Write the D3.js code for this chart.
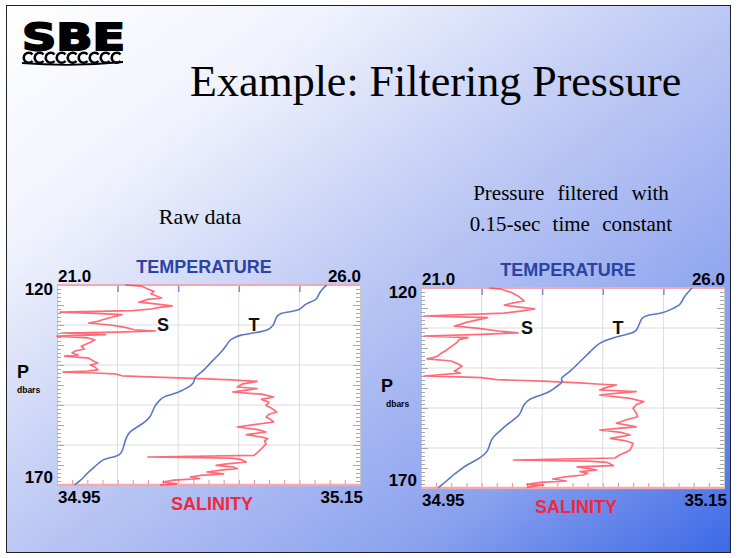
<!DOCTYPE html>
<meta charset="utf-8">
<style>
  body { margin: 0; background: #fff; }
  svg { display: block; }
  .serif { font-family: "Liberation Serif", "Times New Roman", serif; }
  .lab { font-family: "Liberation Sans", Arial, sans-serif; font-weight: bold; }
</style>
<svg width="738" height="558"></svg>
<script src="https://d3js.org/d3.v7.min.js"></script>
<script>

// ---- data: [pressure dbar, value] ----
var rawTemp = [[120,25.45],[121,25.38],[122,25.33],[123,25.30],[123.75,25.28],[124.6,25.12],[125.3,25.06],
  [126.25,25.01],[126.8,24.80],[127.1,24.68],[127.9,24.62],[129,24.60],[130,24.57],[131.25,24.51],[132,24.25],
  [132.5,24.02],[133.2,23.92],[133.75,23.85],[135,23.80],[136.25,23.74],[137.5,23.66],[138.75,23.58],[140,23.50],
  [141,23.44],[142.1,23.36],[142.9,23.28],[143.6,23.27],[144.6,23.25],[145.4,23.19],[146.2,23.08],[147.1,22.97],
  [147.9,22.75],[148.75,22.70],[150,22.62],[151.5,22.58],[153.3,22.53],[154.6,22.42],[155.7,22.30],[156.7,22.20],
  [157.9,22.15],[160,22.10],[162.75,22.07],[163.3,21.79],[164.2,21.71],[165.5,21.62],[167.1,21.49],[168.5,21.42],
  [169.6,21.32],[170,21.29]];

var rawSal = [[120,34.995],[120.3,35.006],[121,35.010],[121.6,35.014],[122.2,35.012],[122.8,35.016],[123.25,35.019],
  [123.6,35.010],[124.3,35.004],[124.6,35.012],[124.9,35.019],[125.2,35.026],[125.6,35.018],[126,35.012],[126.4,35.000],
  [126.8,34.952],[127.1,34.975],[127.4,34.993],[127.7,34.990],[128.2,34.985],[128.7,34.980],[129.1,34.977],[129.5,34.971],
  [130,34.985],[130.6,34.995],[131.2,35.001],[131.5,35.015],[131.8,34.990],[132,34.953],[132.4,34.982],[132.8,34.950],
  [133.2,34.970],[133.7,34.975],[134.3,34.972],[135.3,34.966],[136,34.968],[136.5,34.962],[137,34.960],[137.5,34.964],
  [137.8,34.955],[138.3,34.971],[139,34.974],[139.5,34.977],[140,34.972],[140.5,34.975],[141.2,34.977],[141.5,34.970],
  [141.8,34.954],[142,34.975],[142.2,34.988],[142.7,34.993],[143.1,35.020],[143.4,35.045],[143.7,35.065],[144.1,35.082],
  [144.8,35.072],[145.5,35.069],[145.9,35.082],[146.3,35.075],[146.75,35.066],[147.3,35.085],[148,35.093],[148.6,35.085],
  [149.3,35.090],[150.1,35.088],[150.9,35.092],[151.75,35.095],[152.3,35.090],[153,35.088],[153.6,35.091],[154.25,35.093],
  [154.9,35.080],[155.5,35.069],[156.1,35.082],[156.75,35.088],[157.4,35.075],[158,35.085],[158.4,35.089],[159,35.087],
  [159.7,35.088],[160.5,35.086],[161.3,35.084],[162,35.082],[162.6,35.080],[163,35.010],[163.3,35.065],[163.6,35.071],
  [164.25,35.075],[164.7,35.062],[165.1,35.055],[165.5,35.066],[165.9,35.069],[166.3,35.058],[166.75,35.049],[167.2,35.060],
  [167.6,35.045],[168,35.038],[168.4,35.044],[168.8,35.027],[169.25,35.020],[169.7,35.029],[170,35.018]];

var filtTemp = [[120,25.47],[121.5,25.38],[122.5,25.33],[123.5,25.30],[124.25,25.27],[125.2,25.15],[126.3,25.00],
  [126.75,24.72],[127.5,24.64],[129,24.60],[130.9,24.56],[131.6,24.40],[132.2,24.23],[133.2,24.02],[134.25,23.90],
  [135.8,23.80],[137.6,23.68],[139.2,23.57],[140.9,23.46],[142.6,23.29],[143.2,23.34],[143.8,23.32],[144.8,23.22],
  [145.9,23.13],[146.8,22.98],[147.6,22.80],[149,22.70],[150.5,22.66],[151.75,22.63],[153,22.52],[154.25,22.41],
  [155.8,22.30],[157.2,22.19],[158.5,22.14],[160.9,22.11],[162.6,21.97],[164.25,21.75],[165.5,21.64],[166.75,21.53],
  [168,21.44],[169.25,21.34],[170,21.28]];

var filtSal = [[120,34.995],[120.3,35.003],[121.2,35.010],[122,35.014],[122.6,35.016],[123.25,35.018],[123.8,35.010],
  [124.3,35.005],[124.8,35.015],[125.2,35.025],[125.7,35.017],[126.3,35.005],[127,34.952],[127.4,34.994],[127.9,34.988],
  [128.6,34.980],[129.1,34.976],[129.5,34.972],[130.1,34.988],[130.75,35.001],[131.2,35.014],[131.6,34.990],[132,34.952],
  [132.4,34.981],[132.9,34.975],[133.5,34.974],[134.1,34.972],[134.9,34.969],[135.75,34.966],[136.4,34.963],[137,34.961],
  [137.4,34.958],[137.7,34.954],[138.25,34.970],[138.9,34.974],[139.5,34.977],[140.1,34.975],[140.75,34.972],[141.3,34.976],
  [142,34.952],[142.2,34.975],[142.4,34.990],[142.9,35.000],[143.3,35.030],[143.7,35.055],[144,35.066],[144.25,35.079],
  [144.9,35.072],[145.5,35.068],[145.9,35.092],[146.3,35.080],[146.75,35.068],[147.6,35.088],[148.4,35.097],[149.2,35.092],
  [150.1,35.090],[151.2,35.092],[152.2,35.093],[153,35.085],[153.8,35.079],[154.7,35.092],[155.1,35.080],[155.5,35.068],
  [156.1,35.082],[156.75,35.088],[157.6,35.075],[158.2,35.085],[158.8,35.090],[159.7,35.089],[160.5,35.088],[161.1,35.085],
  [161.75,35.081],[162.5,35.078],[163,35.011],[163.3,35.060],[163.6,35.073],[164.4,35.077],[164.7,35.053],[165.1,35.060],
  [165.5,35.066],[165.9,35.055],[166.3,35.060],[166.75,35.057],[167.2,35.045],[167.75,35.037],[168.25,35.046],[168.6,35.029],
  [169.1,35.020],[169.25,35.031],[169.7,35.021],[170,35.020]];

var pRange = [120, 170];
var tRange = [21.0, 26.0];
var sRange = [34.95, 35.15];
var pLabels = ["120", "170"];
var tLabels = ["21.0", "26.0"];
var sLabels = ["34.95", "35.15"];

var svg = d3.select("svg");

// slide background
var defs = svg.append("defs");
var grad = defs.append("linearGradient").attr("id", "bg")
    .attr("x1", 0).attr("y1", 0).attr("x2", 1).attr("y2", 1);
grad.append("stop").attr("offset", "0").attr("stop-color", "#ffffff");
grad.append("stop").attr("offset", "0.22").attr("stop-color", "#f1f3fd");
grad.append("stop").attr("offset", "0.5").attr("stop-color", "#bcc8f4");
grad.append("stop").attr("offset", "0.78").attr("stop-color", "#8aa1ee");
grad.append("stop").attr("offset", "1").attr("stop-color", "#3b69e6");

svg.append("rect")
    .attr("x", 6.5).attr("y", 5.5).attr("width", 724).attr("height", 547)
    .attr("fill", "url(#bg)").attr("stroke", "#222").attr("stroke-width", 1);

// SBE logo
svg.append("text")
    .attr("x", 22).attr("y", 50)
    .attr("textLength", 103).attr("lengthAdjust", "spacingAndGlyphs")
    .attr("font-family", "'DejaVu Sans', sans-serif").attr("font-weight", "bold")
    .attr("font-size", 38).attr("fill", "#000").attr("stroke", "#000").attr("stroke-width", 2)
    .text("SBE");
var curls = svg.append("g").attr("fill", "none").attr("stroke", "#000").attr("stroke-width", 2.6);
d3.range(9).forEach(function(i) {
  var cx = 28 + i * 11, cy = 57.5;
  curls.append("path").attr("d",
    "M" + (cx + 4.5) + "," + (cy - 3) + " A5,5 0 1 0 " + (cx + 4.5) + "," + (cy + 3.5));
});
curls.append("path").attr("d", "M22,63 Q72,67 123,62").attr("stroke-width", 1.8);

// title & captions
svg.append("text").attr("class", "serif")
    .attr("x", 190).attr("y", 96).attr("font-size", 44).attr("fill", "#000")
    .text("Example: Filtering Pressure");
svg.append("text").attr("class", "serif")
    .attr("x", 200).attr("y", 224).attr("text-anchor", "middle").attr("font-size", 22)
    .text("Raw data");
svg.append("text").attr("class", "serif")
    .attr("x", 571).attr("y", 200).attr("text-anchor", "middle").attr("font-size", 21)
    .attr("word-spacing", 8).text("Pressure filtered with");
svg.append("text").attr("class", "serif")
    .attr("x", 571).attr("y", 231).attr("text-anchor", "middle").attr("font-size", 21)
    .attr("word-spacing", 7).text("0.15-sec time constant");

function drawPanel(x0, y0, temp, sal, pdy) {
  var w = 303, h = 200;
  var g = svg.append("g").attr("transform", "translate(" + x0 + "," + y0 + ")");

  var y = d3.scaleLinear().domain(pRange).range([0, h]);
  var xt = d3.scaleLinear().domain(tRange).range([0, w]);
  var xs = d3.scaleLinear().domain(sRange).range([0, w]);

  g.append("rect").attr("width", w).attr("height", h).attr("fill", "#fff");

  // grid
  g.append("g").selectAll("line").data(d3.range(22, 26)).join("line")
      .attr("x1", function(d) { return xt(d); }).attr("x2", function(d) { return xt(d); })
      .attr("y1", 0).attr("y2", h).attr("stroke", "#dcdcdc");
  g.append("g").selectAll("line").data(d3.range(130, 170, 10)).join("line")
      .attr("y1", function(d) { return y(d); }).attr("y2", function(d) { return y(d); })
      .attr("x1", 0).attr("x2", w).attr("stroke", "#dcdcdc");

  // pressure ticks both sides, pointing in
  [["left", 0, -1], ["right", w, 1]].forEach(function(s) {
    var ax = (s[0] == "left" ? d3.axisLeft(y) : d3.axisRight(y))
        .tickValues(d3.range(121, 170)).tickFormat("").tickSize(-4);
    var a = g.append("g").attr("transform", "translate(" + s[1] + ",0)").call(ax);
    a.select(".domain").attr("stroke", "#c8c8c8");
    a.selectAll(".tick line").attr("stroke", "#a8a8a8")
        .attr("x2", function(d) { return (d % 5 == 0 ? 7 : 4) * -s[2]; });
  });

  // salinity ticks along the bottom
  var bx = g.append("g").attr("transform", "translate(0," + h + ")")
      .call(d3.axisBottom(xs).tickValues(d3.range(34.96, 35.145, 0.01)).tickFormat("").tickSize(-5));
  bx.select(".domain").remove();
  bx.selectAll(".tick line").attr("stroke", "#f08a96");
  // temperature ticks along the top
  var tx = g.append("g")
      .call(d3.axisTop(xt).tickValues(d3.range(22, 26)).tickFormat("").tickSize(-7));
  tx.select(".domain").remove();
  tx.selectAll(".tick line").attr("stroke", "#7890d0").attr("stroke-width", 1.5);

  g.append("line").attr("x1", 0).attr("x2", w).attr("y1", 0).attr("y2", 0)
      .attr("stroke", "#f6a8b0").attr("stroke-width", 2);
  g.append("line").attr("x1", 0).attr("x2", w).attr("y1", h).attr("y2", h)
      .attr("stroke", "#f6a8b0").attr("stroke-width", 2.5);

  // profiles
  g.append("path").datum(sal)
      .attr("fill", "none").attr("stroke", "#ff3a4c").attr("stroke-opacity", 0.75)
      .attr("stroke-width", 1.7).attr("stroke-linejoin", "round")
      .attr("d", d3.line().x(function(d) { return xs(d[1]); }).y(function(d) { return y(d[0]); }));
  g.append("path").datum(temp)
      .attr("fill", "none").attr("stroke", "#5a78c6")
      .attr("stroke-width", 1.6).attr("stroke-linejoin", "round")
      .attr("d", d3.line().curve(d3.curveBasis).x(function(d) { return xt(d[1]); }).y(function(d) { return y(d[0]); }));

  // in-plot markers
  g.append("text").attr("class", "lab").attr("font-size", 18).attr("text-anchor", "middle")
      .attr("x", xs(35.020)).attr("y", y(131.5)).attr("fill", "#111").text("S");
  g.append("text").attr("class", "lab").attr("font-size", 18).attr("text-anchor", "middle")
      .attr("x", xt(24.25)).attr("y", y(131.5)).attr("fill", "#111").text("T");

  // axis titles and end labels
  g.append("text").attr("class", "lab").attr("font-size", 18).attr("text-anchor", "middle")
      .attr("x", 147).attr("y", -12).attr("fill", "#2b44a4").text("TEMPERATURE");
  g.append("text").attr("class", "lab").attr("font-size", 18).attr("text-anchor", "middle")
      .attr("x", 155).attr("y", h + 25).attr("fill", "#f0283c").text("SALINITY");
  g.append("text").attr("class", "lab").attr("font-size", 17)
      .attr("x", xt(tRange[0]) + 1).attr("y", -3).text(tLabels[0]);
  g.append("text").attr("class", "lab").attr("font-size", 17).attr("text-anchor", "end")
      .attr("x", xt(tRange[1]) + 1).attr("y", -3).text(tLabels[1]);
  g.append("text").attr("class", "lab").attr("font-size", 17)
      .attr("x", xs(sRange[0]) + 1).attr("y", h + 18).text(sLabels[0]);
  g.append("text").attr("class", "lab").attr("font-size", 17).attr("text-anchor", "end")
      .attr("x", xs(sRange[1]) + 3).attr("y", h + 18).text(sLabels[1]);
  g.append("text").attr("class", "lab").attr("font-size", 17).attr("text-anchor", "end")
      .attr("x", -4).attr("y", y(pRange[0]) + 10).text(pLabels[0]);
  g.append("text").attr("class", "lab").attr("font-size", 17).attr("text-anchor", "end")
      .attr("x", -4).attr("y", y(pRange[1]) - 2).text(pLabels[1]);
  g.append("text").attr("class", "lab").attr("font-size", 18)
      .attr("x", -40).attr("y", 93 + pdy).text("P");
  g.append("text").attr("class", "lab").attr("font-size", 8.5)
      .attr("x", -40 + (pdy ? 5 : 0)).attr("y", 108 + pdy).text("dbars");
}

drawPanel(57, 285, rawTemp, rawSal, 0);
drawPanel(421, 288, filtTemp, filtSal, 11);

</script>
